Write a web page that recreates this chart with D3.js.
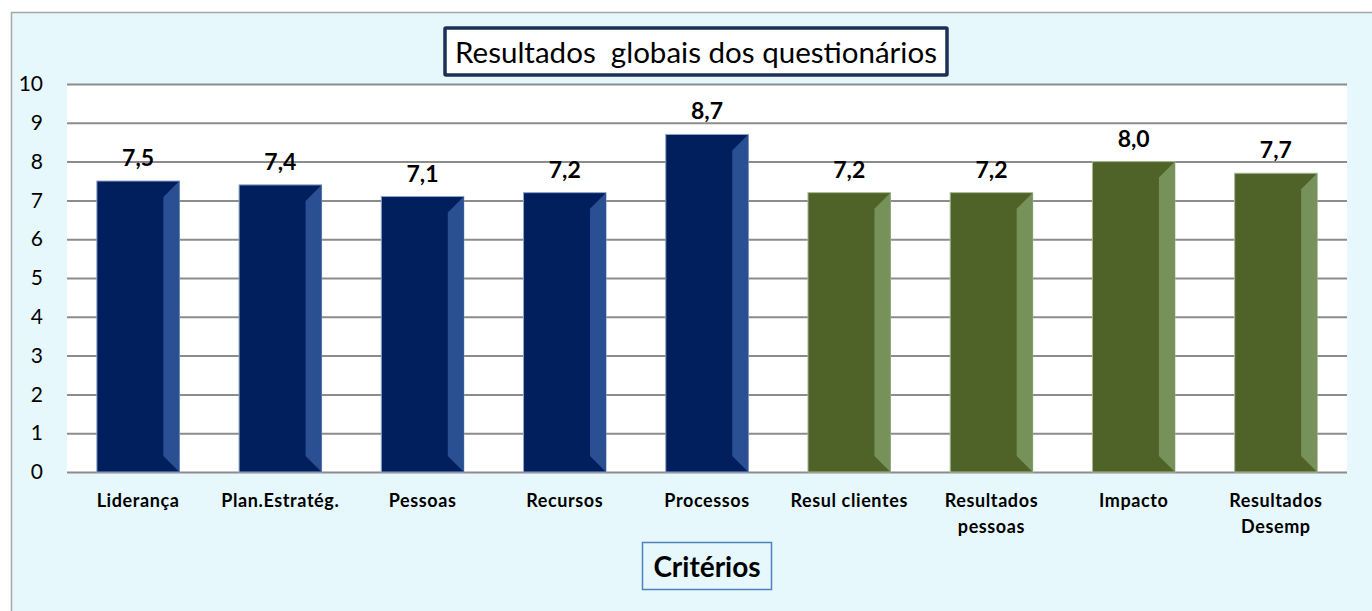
<!DOCTYPE html>
<html><head><meta charset="utf-8">
<script src="https://cdn.jsdelivr.net/npm/d3@7"></script>
<style>html,body{margin:0;padding:0;background:#fff;}svg{display:block;}</style>
</head><body>
<svg id="c" width="1372" height="611"></svg>
<script>
const categories = [["Liderança"],["Plan.Estratég."],["Pessoas"],["Recursos"],["Processos"],["Resul clientes"],["Resultados","pessoas"],["Impacto"],["Resultados","Desemp"]];
const values = [7.5, 7.4, 7.1, 7.2, 8.7, 7.2, 7.2, 8.0, 7.7];
const groups = ["blue","blue","blue","blue","blue","green","green","green","green"];
const yTicks = [0,1,2,3,4,5,6,7,8,9,10];
const title = "Resultados  globais dos questionários";
const axisTitle = "Critérios";

const font = "Lato, 'Open Sans', sans-serif";
const svg = d3.select("#c");
const colors = {blue:{front:"#001F5C", side:"#2A4F93", edge:"#8EA3CC"}, green:{front:"#4F6228", side:"#76925A", edge:"#A9BB93"}};

svg.append("rect").attr("x",11.5).attr("y",12.5).attr("width",1372).attr("height",620)
  .attr("fill","#E6F8FC").attr("stroke","#A6A6A6").attr("stroke-width",1.5);

const x = d3.scaleBand().domain(d3.range(categories.length)).range([67,1347]).paddingInner(0.42).paddingOuter(0.21);
const y = d3.scaleLinear().domain([0,10]).range([472,84]);

svg.append("rect").attr("x",67).attr("y",y(10)).attr("width",1280).attr("height",y(0)-y(10)).attr("fill","#fff");

const gy = svg.append("g").attr("transform","translate(67,0)")
  .call(d3.axisLeft(y).tickValues(yTicks).tickSize(-1280).tickPadding(24).tickFormat(d3.format("d")));
gy.select(".domain").remove();
gy.selectAll(".tick line").attr("stroke","#8C8C8C").attr("stroke-width",2);
gy.selectAll(".tick text").attr("font-family",font).attr("font-size",21).attr("fill","#000");

const bw = x.bandwidth(), sw = 16;
const bars = svg.append("g").selectAll("g").data(values).join("g");
bars.append("rect").attr("x",(d,i)=>x(i)).attr("y",d=>y(d)).attr("width",bw).attr("height",d=>y(0)-y(d))
  .attr("fill",(d,i)=>colors[groups[i]].front).attr("stroke",(d,i)=>colors[groups[i]].edge).attr("stroke-width",1);
bars.append("polygon").attr("points",(d,i)=>{
  const x1 = x(i)+bw, t = y(d), b = y(0);
  return [[x1-sw,t+sw],[x1,t],[x1,b],[x1-sw,b-sw]].map(p=>p.join(",")).join(" ");
}).attr("fill",(d,i)=>colors[groups[i]].side);

svg.append("g").selectAll("text").data(values).join("text")
  .attr("x",(d,i)=>x(i)+bw/2).attr("y",d=>y(d)-15).attr("text-anchor","middle")
  .attr("font-family",font).attr("font-weight","bold").attr("font-size",23).attr("fill","#000")
  .text(d=>d3.format(".1f")(d).replace(".",","));

const lab = svg.append("g").selectAll("text").data(categories).join("text")
  .attr("x",(d,i)=>x(i)+bw/2).attr("y",507).attr("text-anchor","middle")
  .attr("font-family",font).attr("font-weight","bold").attr("font-size",18)
  .attr("letter-spacing",0.6).attr("fill","#000");
lab.each(function(d,i){
  const t = d3.select(this);
  d.forEach((line,k)=>t.append("tspan").attr("x",x(i)+bw/2).attr("dy",k===0?0:26).text(line));
});

// title box
svg.append("rect").attr("x",445).attr("y",28).attr("width",502).attr("height",47).attr("fill","#fff")
  .attr("stroke","#1F3056").attr("stroke-width",3.5).attr("rx",1);
svg.append("text").attr("x",696).attr("y",63).attr("text-anchor","middle").attr("font-family",font)
  .attr("font-size",28).attr("fill","#000").style("white-space","pre")
  .attr("textLength",482).attr("lengthAdjust","spacingAndGlyphs").text(title);

// axis title box
svg.append("rect").attr("x",642.5).attr("y",542.5).attr("width",129).attr("height",47).attr("fill","#E6F8FC")
  .attr("stroke","#4F81BD").attr("stroke-width",1.5);
svg.append("text").attr("x",707).attr("y",577).attr("text-anchor","middle").attr("font-family",font)
  .attr("font-weight","bold").attr("font-size",28).attr("fill","#000").text(axisTitle);
</script>
</body></html>
